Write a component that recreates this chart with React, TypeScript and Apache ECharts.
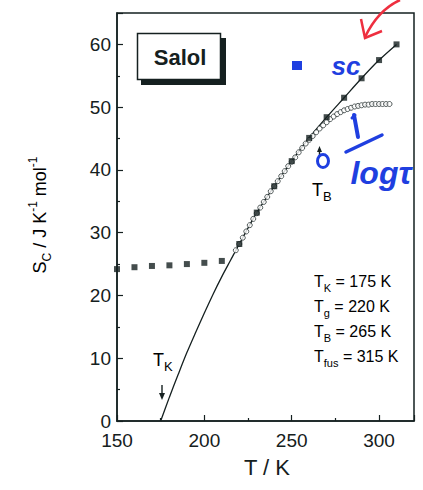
import React, { useEffect, useRef } from "react";
import * as echarts from "echarts";

// Configurational entropy from calorimetry (filled squares on the fit line)
const calT = [220, 230, 240, 250, 260, 270, 280, 290, 300, 310];
const calS = [28.2, 33.2, 37.4, 41.4, 45.1, 48.4, 51.5, 54.6, 57.5, 60.0];

// Solid fit line
const fitT = [175, 180, 185, 190, 195, 200, 205, 210, 215, 220, 230, 240, 250, 260, 270, 280, 290, 300, 310];
const fitS = [0, 3.8, 7.4, 10.9, 14.1, 17.2, 20.2, 23.0, 25.6, 28.2, 33.2, 37.4, 41.4, 45.1, 48.4, 51.5, 54.6, 57.5, 60.0];

// Glass (below Tg) – dotted squares
const glassT = [150, 160, 170, 180, 190, 200, 210];
const glassS = [24.2, 24.5, 24.7, 24.8, 25.0, 25.2, 25.5];

// Open circles (from 1/log tau)
const circT = [218, 220, 222, 224, 226, 228, 230, 232, 234, 236, 238, 240, 242, 244, 246, 248, 250, 252, 254, 256, 258, 260, 262, 264, 266, 268, 270, 272, 274, 276, 278, 280, 282, 284, 286, 288, 290, 292, 294, 296, 298, 300, 302, 304, 306];
const circS = [27.2, 28.2, 29.2, 30.2, 31.2, 32.2, 33.1, 34.0, 34.9, 35.7, 36.6, 37.4, 38.2, 39.0, 39.8, 40.6, 41.3, 42.0, 42.8, 43.5, 44.2, 44.8, 45.4, 46.0, 46.6, 47.1, 47.6, 48.1, 48.5, 48.9, 49.2, 49.5, 49.7, 49.9, 50.1, 50.2, 50.3, 50.4, 50.4, 50.5, 50.5, 50.5, 50.5, 50.5, 50.5];

const xTicks = { min: 150, max: 320, interval: 50 };
const yTicks = { min: 0, max: 65, interval: 10 };

const infoLines = [
  { sub: "K", value: " = 175 K" },
  { sub: "g", value: " = 220 K" },
  { sub: "B", value: " = 265 K" },
  { sub: "fus", value: " = 315 K" },
];

const INK = "#152020";
const BLUE = "#1f3fe0";
const RED = "#ee2f3f";
const FONT = "Liberation Sans, Arial, sans-serif";

const zip = (a: number[], b: number[]) => a.map((v, i) => [v, b[i]]);

export default function App() {
  const ref = useRef<HTMLDivElement>(null);
  useEffect(() => {
    if (!ref.current) return;
    const chart = echarts.init(ref.current, undefined, { renderer: "svg" });
    const subRich = (size: number, subSize: number) => ({
      m: { fontSize: size, fontFamily: FONT, color: INK, lineHeight: size + 2, verticalAlign: "middle" },
      s: { fontSize: subSize, fontFamily: FONT, color: INK, lineHeight: size + 8, verticalAlign: "bottom" },
      p: { fontSize: subSize, fontFamily: FONT, color: INK, lineHeight: size + 4, verticalAlign: "top" },
    });
    const axisCommon = {
      axisLine: { show: true, lineStyle: { color: INK, width: 1.5 } },
      axisTick: { show: true, inside: true, length: 6, lineStyle: { color: INK, width: 1.2 } },
      minorTick: { show: true, splitNumber: 2, length: 3, lineStyle: { color: INK, width: 1.2 } },
      splitLine: { show: false },
      axisLabel: { color: INK, fontSize: 19, fontFamily: FONT, margin: 7, showMaxLabel: false, lineHeight: 17 },
    };
    chart.setOption({
      animation: false,
      grid: {
        left: 117, right: 9, top: 13, bottom: 69,
        outerBoundsMode: "none", containLabel: false,
        show: true, borderColor: INK, borderWidth: 1.5, backgroundColor: "#fff",
      },
      xAxis: { type: "value", ...xTicks, ...axisCommon, axisLabel: { ...axisCommon.axisLabel, margin: 11 } },
      yAxis: { type: "value", ...yTicks, ...axisCommon, axisLabel: { ...axisCommon.axisLabel, margin: 6 } },
      series: [
        {
          type: "line",
          data: zip(fitT, fitS),
          smooth: 0.3,
          showSymbol: false,
          lineStyle: { color: INK, width: 1.3 },
          z: 2,
        },
        {
          type: "scatter",
          data: zip(circT, circS),
          symbol: "circle",
          symbolSize: 5,
          itemStyle: { color: "#fff", borderColor: INK, borderWidth: 0.9 },
          z: 3,
        },
        {
          type: "scatter",
          data: zip(calT, calS),
          symbol: "rect",
          symbolSize: 6,
          itemStyle: { color: INK },
          z: 4,
        },
        {
          type: "scatter",
          data: zip(glassT, glassS),
          symbol: "rect",
          symbolSize: 6,
          itemStyle: { color: INK },
          z: 4,
        },
      ],
      graphic: [
        // y axis title
        {
          type: "text",
          x: 40,
          y: 215,
          rotation: Math.PI / 2,
          style: {
            text: "{m|S}{s|C}{m| / J K}{p|-1}{m| mol}{p|-1}",
            rich: subRich(18, 12),
            align: "center",
            verticalAlign: "middle",
          },
        },
        // x axis title
        {
          type: "text",
          x: 267,
          y: 467,
          style: { text: "T / K", fontSize: 22, fontFamily: FONT, fill: INK, align: "center", verticalAlign: "middle" },
        },
        // Salol box
        { type: "rect", shape: { x: 141, y: 38, width: 85, height: 47 }, style: { fill: INK }, z: 10 },
        { type: "rect", shape: { x: 137.5, y: 33.5, width: 83, height: 46 }, style: { fill: "#fff", stroke: INK, lineWidth: 1.5 }, z: 11 },
        {
          type: "text", x: 180, y: 57, z: 12,
          style: { text: "Salol", fontSize: 22, fontWeight: "bold", fontFamily: FONT, fill: INK, align: "center", verticalAlign: "middle" },
        },
        // T_K label and arrow
        {
          type: "text", x: 153, y: 360, z: 12,
          style: { text: "{m|T}{s|K}", rich: subRich(18, 13), align: "left", verticalAlign: "middle" },
        },
        { type: "line", shape: { x1: 162, y1: 385, x2: 162, y2: 395 }, style: { stroke: INK, lineWidth: 1.4 }, z: 12 },
        { type: "polygon", shape: { points: [[159, 393], [165, 393], [162, 400]] }, style: { fill: INK }, z: 12 },
        // T_B label and arrow
        {
          type: "text", x: 312, y: 190, z: 12,
          style: { text: "{m|T}{s|B}", rich: subRich(18, 13), align: "left", verticalAlign: "middle" },
        },
        { type: "line", shape: { x1: 319.5, y1: 150, x2: 319.5, y2: 157 }, style: { stroke: INK, lineWidth: 1.4 }, z: 12 },
        { type: "polygon", shape: { points: [[317, 152], [322, 152], [319.5, 146]] }, style: { fill: INK }, z: 12 },
        // info text block
        ...infoLines.map((l, i) => ({
          type: "text",
          x: 314,
          y: 281 + i * 25,
          z: 12,
          style: {
            text: `{m|T}{s|${l.sub}}{m|${l.value}}`,
            rich: {
              m: { fontSize: 16, fontFamily: FONT, color: INK, lineHeight: 18, verticalAlign: "middle" },
              s: { fontSize: 11, fontFamily: FONT, color: INK, lineHeight: 24, verticalAlign: "bottom" },
            },
            align: "left",
            verticalAlign: "middle",
          },
        })),
        // handwritten annotations
        { type: "rect", shape: { x: 292, y: 61, width: 10, height: 9 }, style: { fill: BLUE }, z: 13 },
        {
          type: "text", x: 346, y: 66, z: 13,
          style: { text: "sc", fontSize: 26, fontStyle: "italic", fontWeight: "bold", fontFamily: FONT, fill: BLUE, align: "center", verticalAlign: "middle" },
        },
        { type: "line", shape: { x1: 354, y1: 115, x2: 358, y2: 137 }, style: { stroke: BLUE, lineWidth: 4, lineCap: "round" }, z: 13 },
        { type: "line", shape: { x1: 352, y1: 118, x2: 355, y2: 115 }, style: { stroke: BLUE, lineWidth: 3, lineCap: "round" }, z: 13 },
        { type: "line", shape: { x1: 346, y1: 152, x2: 382, y2: 135 }, style: { stroke: BLUE, lineWidth: 3.5, lineCap: "round" }, z: 13 },
        {
          type: "text", x: 381, y: 173, z: 13,
          style: { text: "logτ", fontSize: 32, fontStyle: "italic", fontWeight: "bold", fontFamily: FONT, fill: BLUE, align: "center", verticalAlign: "middle" },
        },
        { type: "ellipse", shape: { cx: 323, cy: 161, rx: 5.5, ry: 6.5 }, style: { fill: "none", stroke: BLUE, lineWidth: 3 }, z: 13 },
        {
          type: "bezierCurve",
          shape: { x1: 400, y1: 0, x2: 365, y2: 37, cpx1: 378, cpy1: 10 },
          style: { fill: "none", stroke: RED, lineWidth: 2.5 },
          z: 13,
        },
        { type: "polyline", shape: { points: [[361, 19], [365, 38], [382, 31]] }, style: { stroke: RED, lineWidth: 2.5, fill: "none" }, z: 13 },
      ],
    });
    return () => chart.dispose();
  }, []);
  return <div ref={ref} style={{ position: "absolute", left: 0, top: 0, width: 423, height: 490 }} />;
}
